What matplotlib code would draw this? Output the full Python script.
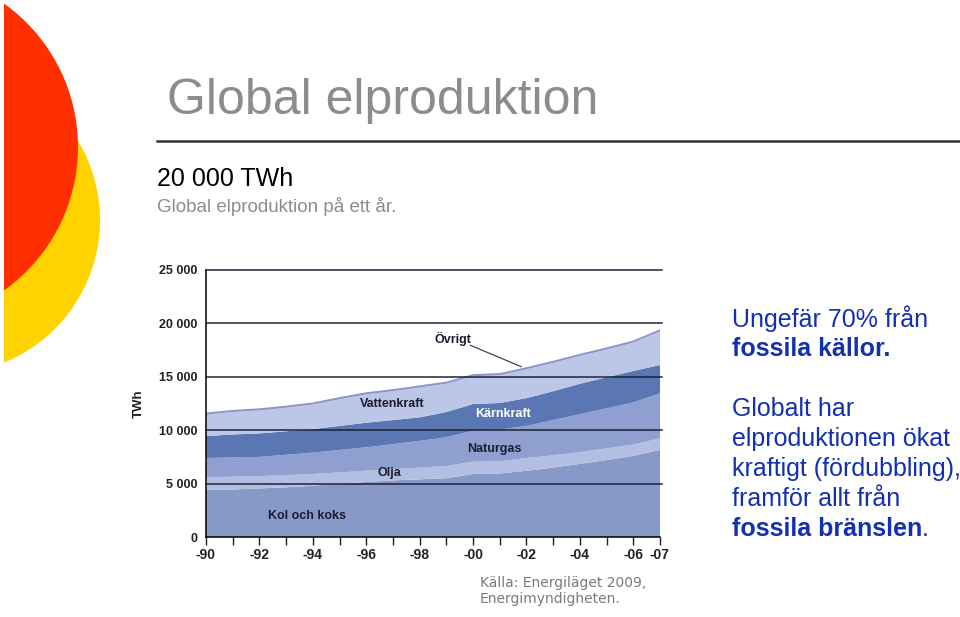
import numpy as np
from matplotlib import pyplot as plt
from matplotlib.patches import Circle, Rectangle

# data, TWh per source and year
years = list(range(1990, 2008))
kol = [4400, 4450, 4550, 4650, 4800, 5000, 5150, 5300, 5400, 5500,
       5900, 5950, 6200, 6500, 6850, 7200, 7600, 8150]
olja = [1200, 1200, 1150, 1150, 1100, 1050, 1050, 1050, 1100, 1150,
        1150, 1150, 1200, 1150, 1100, 1100, 1050, 1100]
naturgas = [1800, 1800, 1800, 1900, 2000, 2100, 2200, 2350, 2500, 2700,
            2900, 2950, 3000, 3300, 3550, 3750, 3950, 4200]
karnkraft = [2050, 2150, 2200, 2200, 2200, 2250, 2300, 2250, 2200, 2350,
             2500, 2500, 2600, 2700, 2850, 2900, 2950, 2650]
vattenkraft = [2000, 2100, 2150, 2200, 2300, 2500, 2650, 2700, 2800, 2650,
               2600, 2600, 2700, 2650, 2600, 2600, 2650, 3150]
ovrigt = [200] * 18

year_ticks = [1990, 1992, 1994, 1996, 1998, 2000, 2002, 2004, 2006, 2007]
year_labels = ['-90', '-92', '-94', '-96', '-98', '-00', '-02', '-04', '-06', '-07']
y_ticks = [0, 5000, 10000, 15000, 20000, 25000]
y_labels = ['0', '5 000', '10 000', '15 000', '20 000', '25 000']

layer_colors = ['#8799c9', '#b3bfe2', '#8e9fd0', '#5b77b3', '#bcc6e6', '#8d96cc']
blue_text = '#1230b0'

fig = plt.figure(figsize=(9.6, 6.17), dpi=100)
W, H = 960, 617

# decoration: red and yellow discs on the left edge
deco = fig.add_axes([0, 0, 1, 1])
deco.set_xlim(0, W)
deco.set_ylim(H, 0)
deco.axis('off')
deco.add_patch(Circle((-54, 220), 154, color='#ffd200', lw=0))
deco.add_patch(Circle((-98, 147), 176, color='#ff2f00', lw=0))
deco.add_patch(Rectangle((0, 0), 4, H, color='white', lw=0))
deco.plot([157, 960], [141, 141], color='#333333', lw=1.8)

fig.text(167 / W, 1 - 101 / H, 'Global elproduktion', fontsize=36, color='#8c8c8c',
         family='Liberation Sans', va='center', ha='left')
fig.text(157 / W, 1 - 179 / H, '20 000 TWh', fontsize=18, color='black',
         family='Liberation Sans', va='center', ha='left')
fig.text(157 / W, 1 - 206 / H, 'Global elproduktion på ett år.', fontsize=13.5,
         color='#8c8c8c', family='Liberation Sans', va='center', ha='left')

# right hand text block
lines = [
    ('Ungefär 70% från', 'normal', 319),
    ('fossila källor.', 'bold', 349),
    ('Globalt har', 'normal', 409),
    ('elproduktionen ökat', 'normal', 439),
    ('kraftigt (fördubbling),', 'normal', 469),
    ('framför allt från', 'normal', 499),
]
for txt, weight, ypx in lines:
    fig.text(732 / W, 1 - ypx / H, txt, fontsize=18, color=blue_text, weight=weight,
             family='Liberation Sans', va='center', ha='left')
t = fig.text(732 / W, 1 - 529 / H, 'fossila bränslen', fontsize=18, color=blue_text,
             weight='bold', family='Liberation Sans', va='center', ha='left')
fig.canvas.draw()
bb = t.get_window_extent()
fig.text(bb.x1 / W, 1 - 529 / H, '.', fontsize=18, color=blue_text,
         family='Liberation Sans', va='center', ha='left')

fig.text(480 / W, 1 - 591 / H, 'Källa: Energiläget 2009,\nEnergimyndigheten.',
         fontsize=10, color='#7a7a7a', family='DejaVu Sans', va='center', ha='left',
         linespacing=1.15)

# the chart
ax = fig.add_axes([206 / W, 1 - 537 / H, 454 / W, 267 / H])
ax.stackplot(years, kol, olja, naturgas, karnkraft, vattenkraft, ovrigt,
             colors=layer_colors, lw=0)
ax.set_xlim(1990, 2007)
ax.set_ylim(0, 25000)
for y in y_ticks[1:]:
    ax.axhline(y, color='#1c2238', lw=1.1, zorder=3, clip_on=False, xmax=1.005)

for s in ['top', 'right']:
    ax.spines[s].set_visible(False)
ax.spines['left'].set_linewidth(1.1)
ax.spines['bottom'].set_linewidth(1.1)
ax.spines['bottom'].set_zorder(4)

ax.set_xticks(year_ticks)
ax.set_xticklabels(year_labels)
ax.set_xticks(years, minor=True)
ax.tick_params(axis='x', which='both', direction='out', length=6, width=1, pad=2,
               labelsize=10, colors='#222222')
ax.set_yticks(y_ticks)
ax.set_yticklabels(y_labels)
ax.tick_params(axis='y', length=0, pad=6, labelsize=9)
for lab in ax.get_yticklabels() + ax.get_xticklabels():
    lab.set_family('Liberation Sans')
    lab.set_fontweight('bold')
    lab.set_color('#222222')
ax.set_ylabel('TWh', fontsize=9.5, fontweight='bold', family='Liberation Sans',
              color='#222222', labelpad=10)

label_kw = dict(fontsize=9, fontweight='bold', family='Liberation Sans', ha='center',
                va='center')
ax.text(1999.25, 18500, 'Övrigt', color='#1c1c30', **label_kw)
ax.plot([1999.9, 2001.8], [17950, 15950], color='#444455', lw=0.9)
ax.text(1996.97, 12450, 'Vattenkraft', color='#1c1c30', **label_kw)
ax.text(2001.12, 11500, 'Kärnkraft', color='white', **label_kw)
ax.text(2000.8, 8250, 'Naturgas', color='#1c1c30', **label_kw)
ax.text(1996.85, 6000, 'Olja', color='#1c1c30', **label_kw)
ax.text(1993.8, 1950, 'Kol och koks', color='#1c1c30', **label_kw)

fig.savefig('out.png', dpi=100)
